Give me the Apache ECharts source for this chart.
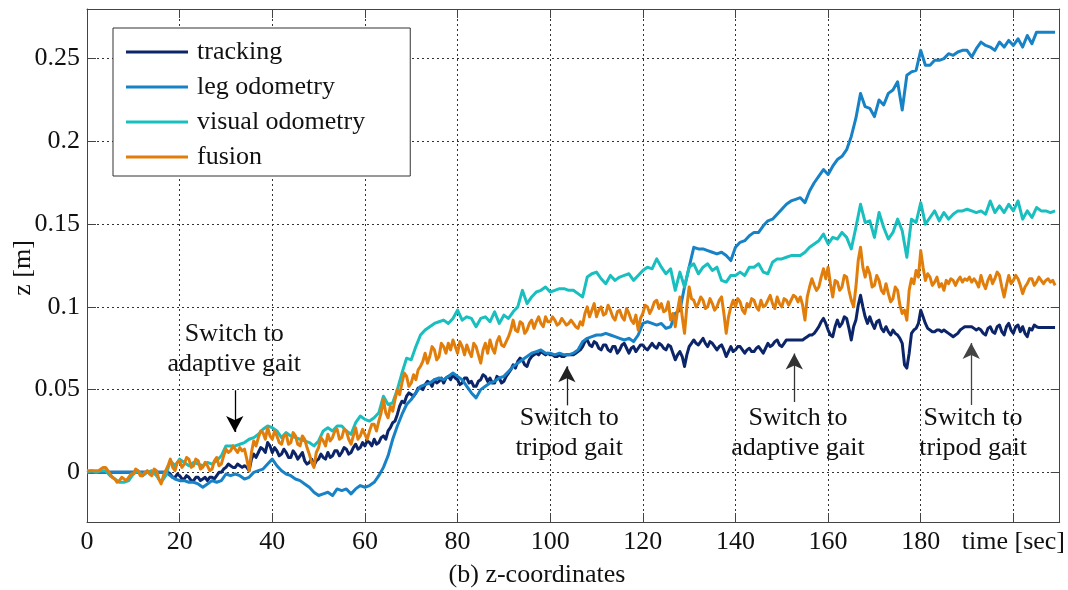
<!DOCTYPE html>
<html>
<head>
<meta charset="utf-8">
<script src="https://cdn.jsdelivr.net/npm/echarts@6/dist/echarts.min.js"></script>
<style>
  html, body { margin: 0; padding: 0; background: #fff; }
  #chart { width: 1068px; height: 590px; }
</style>
</head>
<body>
<div id="chart"></div>
<script>
// Height estimates (z, metres) sampled once per second, t = 0 .. 209 s.
// The noisier estimates also carry a half-second sample (t = i + 0.5).
const seriesNames = ['tracking', 'leg odometry', 'visual odometry', 'fusion'];

const tracking = [
  0,0,0,0,0,0,0,0,0,0,
  0,0,0,0,0,0,0,0,-0.001,-0.003,
  -0.002,-0.004,-0.003,-0.005,-0.003,-0.004,-0.005,-0.003,-0.002,0.000,
  0.003,0.004,0.003,0.004,0.004,0.001,0.011,0.012,0.014,0.018,
  0.012,0.013,0.011,0.012,0.009,0.011,0.010,0.007,0.006,0.004,
  0.008,0.009,0.012,0.010,0.013,0.012,0.014,0.012,0.017,0.015,
  0.016,0.018,0.020,0.018,0.022,0.025,0.030,0.035,0.043,0.046,
  0.047,0.048,0.051,0.053,0.054,0.056,0.055,0.054,0.058,0.059,
  0.056,0.054,0.057,0.055,0.052,0.056,0.058,0.057,0.054,0.057,
  0.055,0.060,0.065,0.067,0.068,0.064,0.070,0.072,0.073,0.071,
  0.071,0.070,0.071,0.070,0.071,0.071,0.073,0.076,0.080,0.076,
  0.078,0.074,0.077,0.073,0.076,0.074,0.078,0.072,0.076,0.075,
  0.077,0.074,0.078,0.075,0.077,0.074,0.076,0.068,0.073,0.064,
  0.076,0.080,0.077,0.081,0.076,0.078,0.074,0.077,0.070,0.076,
  0.074,0.076,0.072,0.075,0.073,0.076,0.072,0.078,0.077,0.080,
  0.076,0.080,0.080,0.080,0.080,0.081,0.083,0.084,0.088,0.093,
  0.086,0.082,0.092,0.090,0.093,0.080,0.092,0.107,0.094,0.094,
  0.087,0.092,0.085,0.085,0.086,0.083,0.078,0.063,0.084,0.087,
  0.098,0.090,0.086,0.085,0.086,0.086,0.084,0.082,0.084,0.087,
  0.088,0.088,0.086,0.086,0.083,0.088,0.084,0.089,0.083,0.090,
  0.084,0.089,0.088,0.082,0.086,0.088,0.0875,0.0875,0.0875,0.0875
];

const trackingHalf = [
  0,0,0,0,0,0,0,0,0,0,
  0,0,0,0,0,0,0,0,-0.003,-0.001,
  -0.004,-0.002,-0.005,-0.003,-0.005,-0.003,-0.003,-0.004,0.000,0.002,
  0.005,0.003,0.005,0.003,0.003,0.008,0.009,0.015,0.012,0.016,
  0.015,0.010,0.014,0.009,0.013,0.008,0.012,0.005,0.008,0.007,
  0.011,0.008,0.009,0.013,0.010,0.015,0.011,0.015,0.014,0.018,
  0.019,0.016,0.017,0.021,0.020,0.027,0.031,0.040,0.042,0.048,
  0.046,0.051,0.050,0.055,0.052,0.054,0.057,0.057,0.056,0.057,
  0.053,0.057,0.054,0.052,0.055,0.059,0.055,0.054,0.058,0.054,
  0.058,0.062,0.063,0.069,0.065,0.068,0.071,0.071,0.072,0.072,
  0.071,0.070,0.070,0.071,0.071,0.072,0.074,0.079,0.077,0.079,
  0.075,0.077,0.074,0.076,0.072,0.077,0.075,0.075,0.073,0.077,
  0.075,0.076,0.076,0.078,0.075,0.077,0.072,0.071,0.070,0.071,
  0.078,0.078,0.079,0.078,0.079,0.076,0.076,0.074,0.073,0.073,
  0.076,0.074,0.074,0.073,0.075,0.074,0.075,0.076,0.079,0.077,
  0.078,0.080,0.080,0.080,0.080,0.082,0.083,0.086,0.091,0.090,
  0.083,0.088,0.088,0.094,0.087,0.088,0.101,0.100,0.090,0.090,
  0.091,0.087,0.088,0.083,0.084,0.081,0.065,0.072,0.086,0.090,
  0.094,0.087,0.085,0.086,0.085,0.085,0.083,0.083,0.086,0.088,
  0.088,0.087,0.087,0.084,0.087,0.085,0.088,0.085,0.088,0.086,
  0.088,0.085,0.084,0.087,0.089,0.0875,0.0875,0.0875,0.0875
];

const legOdometry = [
  0,0,0,0,0,0,0,0,0,0,
  0,0,0,0,0,0,0,0,-0.002,-0.004,
  -0.005,-0.005,-0.006,-0.006,-0.007,-0.009,-0.007,-0.005,-0.006,-0.005,
  -0.001,-0.002,-0.001,-0.002,-0.004,-0.003,0.000,0.001,0.002,0.005,
  0.008,0.004,0.001,-0.001,-0.002,-0.004,-0.005,-0.007,-0.009,-0.012,
  -0.014,-0.013,-0.012,-0.014,-0.010,-0.011,-0.010,-0.013,-0.010,-0.008,
  -0.009,-0.008,-0.006,-0.002,0.003,0.010,0.020,0.028,0.035,0.041,
  0.044,0.048,0.052,0.053,0.054,0.056,0.057,0.056,0.058,0.060,
  0.058,0.056,0.052,0.048,0.045,0.050,0.052,0.054,0.055,0.057,
  0.058,0.061,0.064,0.066,0.068,0.070,0.072,0.073,0.074,0.072,
  0.072,0.071,0.072,0.071,0.071,0.072,0.074,0.079,0.081,0.082,
  0.083,0.083,0.084,0.083,0.082,0.081,0.080,0.081,0.079,0.083,
  0.090,0.091,0.090,0.089,0.090,0.087,0.088,0.096,0.098,0.112,
  0.124,0.136,0.135,0.135,0.134,0.133,0.132,0.133,0.131,0.128,
  0.136,0.139,0.140,0.143,0.145,0.145,0.149,0.152,0.153,0.156,
  0.159,0.162,0.164,0.165,0.166,0.163,0.170,0.175,0.179,0.183,
  0.180,0.185,0.189,0.191,0.195,0.203,0.214,0.229,0.221,0.220,
  0.215,0.225,0.222,0.229,0.231,0.236,0.219,0.240,0.242,0.243,
  0.255,0.246,0.246,0.249,0.249,0.250,0.253,0.252,0.254,0.255,
  0.255,0.251,0.256,0.260,0.258,0.257,0.255,0.260,0.257,0.261,
  0.258,0.262,0.257,0.264,0.259,0.266,0.266,0.266,0.266,0.266
];

const visualOdometry = [
  0.000,0.001,0.000,0.001,0.001,-0.002,-0.004,-0.006,-0.006,-0.005,
  -0.001,0.001,-0.002,0.000,0.001,-0.002,-0.006,-0.002,0.007,0.004,
  0.008,0.006,0.004,0.006,0.005,0.004,0.006,0.005,0.007,0.010,
  0.016,0.016,0.016,0.017,0.018,0.020,0.021,0.023,0.026,0.028,
  0.027,0.025,0.021,0.024,0.022,0.021,0.020,0.019,0.018,0.016,
  0.019,0.025,0.027,0.025,0.028,0.028,0.025,0.023,0.030,0.034,
  0.032,0.031,0.033,0.036,0.046,0.041,0.042,0.050,0.060,0.069,
  0.068,0.076,0.083,0.086,0.088,0.090,0.091,0.092,0.090,0.093,
  0.098,0.092,0.094,0.093,0.088,0.093,0.094,0.091,0.097,0.090,
  0.095,0.093,0.097,0.100,0.110,0.102,0.106,0.109,0.110,0.112,
  0.109,0.110,0.111,0.111,0.110,0.110,0.108,0.106,0.118,0.120,
  0.121,0.117,0.114,0.119,0.116,0.118,0.119,0.120,0.116,0.119,
  0.122,0.124,0.123,0.129,0.124,0.120,0.123,0.110,0.121,0.112,
  0.124,0.126,0.120,0.124,0.126,0.122,0.124,0.116,0.115,0.119,
  0.119,0.121,0.119,0.124,0.124,0.126,0.121,0.120,0.127,0.129,
  0.129,0.130,0.131,0.131,0.131,0.133,0.136,0.138,0.140,0.144,
  0.138,0.142,0.141,0.145,0.142,0.135,0.148,0.162,0.151,0.152,
  0.142,0.157,0.148,0.141,0.145,0.153,0.146,0.130,0.153,0.151,
  0.163,0.150,0.154,0.158,0.152,0.157,0.153,0.156,0.158,0.158,
  0.159,0.158,0.157,0.158,0.156,0.164,0.157,0.161,0.157,0.162,
  0.158,0.164,0.153,0.158,0.154,0.160,0.158,0.158,0.157,0.158
];

const fusion = [
  0.001,0.001,0.001,0.002,0.003,-0.001,-0.004,-0.005,-0.004,-0.003,
  -0.001,0.001,-0.002,0.001,-0.002,0.001,-0.007,0.001,0.008,0.001,
  0.007,0.005,0.008,0.004,0.007,0.003,0.004,0.002,0.009,0.005,
  0.014,0.013,0.014,0.015,0.014,0.001,0.019,0.021,0.024,0.027,
  0.020,0.022,0.017,0.023,0.018,0.022,0.016,0.020,0.011,0.003,
  0.015,0.019,0.023,0.021,0.026,0.021,0.025,0.017,0.027,0.022,
  0.023,0.025,0.029,0.031,0.044,0.033,0.037,0.050,0.054,0.058,
  0.054,0.056,0.064,0.072,0.070,0.074,0.070,0.076,0.078,0.080,
  0.072,0.076,0.077,0.070,0.076,0.066,0.078,0.080,0.072,0.082,
  0.076,0.082,0.092,0.085,0.090,0.086,0.092,0.091,0.090,0.094,
  0.091,0.092,0.090,0.091,0.090,0.090,0.087,0.089,0.100,0.098,
  0.094,0.100,0.096,0.098,0.092,0.098,0.092,0.096,0.090,0.086,
  0.096,0.100,0.099,0.104,0.102,0.098,0.092,0.088,0.106,0.084,
  0.112,0.104,0.102,0.104,0.100,0.102,0.100,0.106,0.084,0.100,
  0.100,0.103,0.096,0.100,0.104,0.098,0.100,0.104,0.102,0.106,
  0.100,0.104,0.104,0.106,0.106,0.092,0.112,0.113,0.112,0.123,
  0.124,0.106,0.115,0.112,0.118,0.104,0.112,0.136,0.118,0.120,
  0.113,0.116,0.108,0.108,0.105,0.110,0.096,0.092,0.117,0.122,
  0.134,0.116,0.118,0.115,0.112,0.110,0.114,0.116,0.116,0.115,
  0.116,0.115,0.115,0.119,0.111,0.119,0.117,0.119,0.106,0.119,
  0.116,0.117,0.108,0.114,0.117,0.115,0.116,0.116,0.115,0.113
];

const fusionHalf = [
  0.001,0.001,0.001,0.003,0.001,-0.003,-0.006,-0.003,-0.005,-0.001,
  0.002,-0.002,0.000,-0.001,0.002,-0.004,-0.002,0.004,0.003,0.006,
  0.003,0.009,0.003,0.008,0.002,0.006,0.001,0.007,0.004,0.010,
  0.012,0.016,0.012,0.013,0.008,0.012,0.016,0.025,0.020,0.022,
  0.025,0.018,0.022,0.017,0.024,0.017,0.022,0.015,0.006,0.012,
  0.021,0.016,0.019,0.025,0.020,0.026,0.020,0.022,0.020,0.026,
  0.020,0.029,0.025,0.036,0.036,0.040,0.044,0.047,0.060,0.052,
  0.059,0.062,0.067,0.066,0.076,0.068,0.078,0.072,0.074,0.076,
  0.079,0.071,0.073,0.078,0.071,0.074,0.072,0.075,0.079,0.077,
  0.079,0.086,0.086,0.091,0.084,0.090,0.087,0.094,0.088,0.091,
  0.094,0.089,0.093,0.089,0.092,0.088,0.091,0.096,0.094,0.102,
  0.098,0.095,0.101,0.094,0.097,0.094,0.099,0.092,0.095,0.093,
  0.101,0.096,0.103,0.099,0.097,0.103,0.096,0.098,0.094,0.100,
  0.105,0.100,0.106,0.099,0.105,0.098,0.104,0.096,0.094,0.104,
  0.105,0.098,0.102,0.105,0.100,0.104,0.101,0.107,0.099,0.102,
  0.105,0.101,0.107,0.103,0.101,0.106,0.117,0.110,0.118,0.117,
  0.114,0.116,0.110,0.119,0.110,0.100,0.128,0.124,0.124,0.112,
  0.119,0.110,0.114,0.103,0.112,0.101,0.098,0.110,0.114,0.118,
  0.124,0.120,0.113,0.118,0.114,0.116,0.117,0.113,0.118,0.117,
  0.118,0.117,0.112,0.114,0.116,0.114,0.121,0.112,0.113,0.114,
  0.119,0.113,0.112,0.117,0.113,0.118,0.114,0.117,0.116
];

// Gait-switch annotations: time, arrow tail / tip heights, label centre
const switchTimes   = [31.9, 103.6, 152.7, 190.9];
const arrowTail     = [0.0496, 0.0405, 0.0425, 0.0407];
const arrowTip      = [0.0244, 0.0641, 0.0718, 0.0782];
const labelTimes    = [31.8, 104.1, 153.5, 191.3];
const labelHeights  = [0.0744, 0.0236, 0.0236, 0.0236];
const labelTexts    = ['Switch to\nadaptive gait', 'Switch to\ntripod gait',
                       'Switch to\nadaptive gait', 'Switch to\ntripod gait'];
const arrowColors   = ['#000', '#222', '#333', '#444'];

const colors = ['#0c2569', '#1782c6', '#19bfbf', '#e17e0b'];
const FONT = '"Liberation Serif", "Times New Roman", serif';

// [t, z] pairs from whole-second samples, merged with optional half-second samples
function toPairs(whole, half) {
  const out = [];
  whole.forEach((v, i) => {
    out.push([i, v]);
    if (half && i < half.length) out.push([i + 0.5, half[i]]);
  });
  return out;
}

const chart = echarts.init(document.getElementById('chart'), null, { renderer: 'canvas' });

const gridLine = { show: true, lineStyle: { color: '#333', width: 1, type: [2, 3] } };
const boxLine = { show: true, onZero: false, lineStyle: { color: '#444', width: 1 } };
const tickIn = { show: true, inside: true, length: 9, lineStyle: { color: '#444', width: 1 } };

const seriesData = [
  toPairs(tracking, trackingHalf),
  toPairs(legOdometry),
  toPairs(visualOdometry),
  toPairs(fusion, fusionHalf)
];

const series = seriesData.map((data, k) => ({
  name: seriesNames[k],
  type: 'line',
  data: data,
  showSymbol: false,
  symbol: 'none',
  lineStyle: { width: 3, color: colors[k], join: 'round' },
  itemStyle: { color: colors[k] },
  z: 2 + k,
  silent: true
}));

series[0].markLine = {
  silent: true,
  animation: false,
  label: { show: false },
  lineStyle: { type: 'solid', width: 1.3 },
  data: switchTimes.map((t, i) => [
    { coord: [t, arrowTail[i]], symbol: 'none', lineStyle: { color: arrowColors[i] } },
    { coord: [t, arrowTip[i]], symbol: 'arrow', symbolSize: [13, 16],
      itemStyle: { color: arrowColors[i] }, lineStyle: { color: arrowColors[i] } }
  ])
};

chart.setOption({
  animation: false,
  backgroundColor: '#fff',
  grid: { left: 87, right: 7, top: 9, bottom: 68, containLabel: false },
  legend: {
    data: seriesNames,
    orient: 'vertical',
    left: 113,
    top: 28,
    icon: 'rect',
    itemWidth: 62,
    itemHeight: 3,
    itemGap: 9,
    padding: [11, 45, 6, 13],
    backgroundColor: '#fff',
    borderColor: '#333',
    borderWidth: 1,
    selectedMode: false,
    z: 10,
    textStyle: { fontFamily: FONT, fontSize: 26, color: '#111', lineHeight: 26, padding: [0, 0, 0, 4] }
  },
  xAxis: [
    {
      type: 'value', min: 0, max: 210, interval: 20, position: 'bottom',
      axisLine: boxLine, axisTick: tickIn, splitLine: gridLine,
      axisLabel: {
        fontFamily: FONT, fontSize: 26, color: '#111', margin: 7,
        showMaxLabel: false,
        formatter: v => (v === 200 ? 'time [sec]' : String(v))
      }
    },
    {
      type: 'value', min: 0, max: 210, interval: 20, position: 'top',
      axisLine: boxLine, axisTick: tickIn, splitLine: { show: false },
      axisLabel: { show: false }
    }
  ],
  yAxis: [
    {
      type: 'value', min: -0.03, max: 0.28, splitNumber: 6, position: 'left',
      axisLine: boxLine, axisTick: tickIn, splitLine: gridLine,
      axisLabel: {
        fontFamily: FONT, fontSize: 26, color: '#111', margin: 7,
        showMinLabel: false, showMaxLabel: false
      }
    },
    {
      type: 'value', min: -0.03, max: 0.28, splitNumber: 6, position: 'right',
      axisLine: boxLine, axisTick: tickIn, splitLine: { show: false },
      axisLabel: { show: false }
    }
  ],
  series: series
});

// Axis title, caption and gait-switch labels
const labelGraphics = labelTexts.map((txt, i) => {
  const p = chart.convertToPixel({ xAxisIndex: 0, yAxisIndex: 0 }, [labelTimes[i], labelHeights[i]]);
  return {
    type: 'text', x: p[0], y: p[1], z: 20, silent: true,
    style: {
      text: txt, fontFamily: FONT, fontSize: 26, lineHeight: 30, fill: '#111',
      align: 'center', verticalAlign: 'middle', textAlign: 'center', textVerticalAlign: 'middle'
    }
  };
});

chart.setOption({
  graphic: [
    {
      type: 'text', x: 23, y: 268, rotation: Math.PI / 2, z: 20, silent: true,
      style: {
        text: 'z [m]', fontFamily: FONT, fontSize: 26, fill: '#111',
        align: 'center', verticalAlign: 'middle', textAlign: 'center', textVerticalAlign: 'middle'
      }
    },
    {
      type: 'text', x: 537, y: 575, z: 20, silent: true,
      style: {
        text: '(b) z-coordinates', fontFamily: FONT, fontSize: 26, fill: '#111',
        align: 'center', verticalAlign: 'middle', textAlign: 'center', textVerticalAlign: 'middle'
      }
    }
  ].concat(labelGraphics)
});
</script>
</body>
</html>
